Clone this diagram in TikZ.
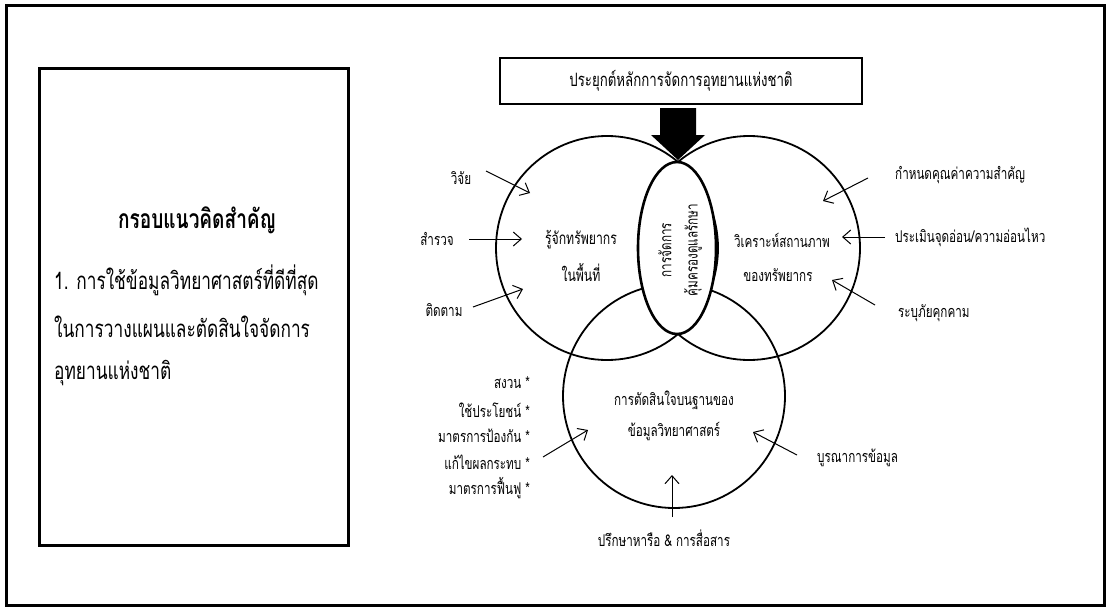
\documentclass[tikz,border=0pt]{standalone}
\usepackage{fontspec}
\newfontfamily\thai[Script=Thai,FakeStretch=0.72]{Loma}
\usetikzlibrary{arrows.meta,shapes.geometric}
\begin{document}
\begin{tikzpicture}[x=1pt,y=-1pt,
  every node/.style={inner sep=0pt},
  txt/.style={font=\thai\fontsize{16.2}{18}\selectfont},
  ctxt/.style={font=\thai\fontsize{17}{19}\selectfont},
  big/.style={font=\thai\fontsize{24}{27}\selectfont},
  ring/.style={draw, line width=1.8pt, ellipse, minimum width=222pt, minimum height=224pt},
  arr/.style={line width=1pt, -{Straight Barb[length=8pt,width=14pt,line width=1pt]}},
  box/.style={draw, line width=2.5pt}]
\useasboundingbox (0,0) rectangle (1107,608);
\draw[line width=3pt] (6,5.5) rectangle (1104,605);
% left panel
\node[box, minimum width=309pt, minimum height=477pt, anchor=north west] (panel) at (38,67) {};
\node[font=\thai\bfseries\fontsize{26.5}{30}\selectfont] (head) at (197,220) {กรอบแนวคิดสำคัญ};
\node[big, anchor=west] (p1) at (54,280) {1. การใช้ข้อมูลวิทยาศาสตร์ที่ดีที่สุด};
\node[big, anchor=west] (p2) at (54,327) {ในการวางแผนและตัดสินใจจัดการ};
\node[big, anchor=west] (p3) at (54,373) {อุทยานแห่งชาติ};
% top box and big arrow
\node[box, minimum width=362pt, minimum height=46pt, font=\thai\fontsize{18.4}{21}\selectfont] (apply) at (681,81) {ประยุกต์หลักการจัดการอุทยานแห่งชาติ};
\coordinate (tip) at (678,160);
% circles
\node[ring] (cL) at (607,248) {};
\node[ring] (cR) at (749,248) {};
\node[ring] (cB) at (674,396) {};
\node[draw, fill=white, line width=2.6pt, ellipse, minimum width=78pt, minimum height=172pt] (core) at (677,248) {};
\fill (660,108) -- (696,108) -- (696,135) -- (705,135) -- (tip) -- (651,135) -- (660,135) -- cycle;
% circle texts
\node[ctxt] (t1) at (581,240) {รู้จักทรัพยากร};
\node[ctxt] (t2) at (581,273) {ในพื้นที่};
\node[txt] (t3) at (782,240) {วิเคราะห์สถานภาพ};
\node[txt] (t4) at (778,275) {ของทรัพยากร};
\node[txt, rotate=90] (t5) at (665,250) {การจัดการ};
\node[txt, rotate=90] (t6) at (693,250) {คุ้มครองดูแลรักษา};
\node[txt] (t7) at (674,400) {การตัดสินใจบนฐานของ};
\node[txt] (t8) at (674,432) {ข้อมูลวิทยาศาสตร์};
% left labels
\node[txt] (l1) at (461,178) {วิจัย};
\node[txt] (l2) at (437,239) {สำรวจ};
\node[txt] (l3) at (444,310) {ติดตาม};
\coordinate (l1s) at (486,171); \coordinate (l1e) at (530,193);
\coordinate (l2s) at (469,239); \coordinate (l2e) at (522,239);
\coordinate (l3s) at (473,307); \coordinate (l3e) at (523,289);
\draw[arr] (l1s) -- (l1e);
\draw[arr] (l2s) -- (l2e);
\draw[arr] (l3s) -- (l3e);
% right labels
\node[txt, anchor=west] (r1) at (895,175) {กำหนดคุณค่าความสำคัญ};
\node[txt, anchor=west] (r2) at (895,237) {ประเมินจุดอ่อน/ความอ่อนไหว};
\node[txt, anchor=west] (r3) at (898,313) {ระบุภัยคุกคาม};
\coordinate (r1s) at (868,178); \coordinate (r1e) at (823,201);
\coordinate (r2s) at (885,237); \coordinate (r2e) at (842,237);
\coordinate (r3s) at (875,305); \coordinate (r3e) at (832,280);
\draw[arr] (r1s) -- (r1e);
\draw[arr] (r2s) -- (r2e);
\draw[arr] (r3s) -- (r3e);
% bottom-left labels
\node[txt, anchor=east] (b1) at (530,383) {สงวน *};
\node[txt, anchor=east] (b2) at (530,410) {ใช้ประโยชน์ *};
\node[txt, anchor=east] (b3) at (530,436) {มาตรการป้องกัน *};
\node[txt, anchor=east] (b4) at (530,462) {แก้ไขผลกระทบ *};
\node[txt, anchor=east] (b5) at (530,488) {มาตรการฟื้นฟู *};
\coordinate (b4s) at (543,457); \coordinate (b4e) at (588,430);
\draw[arr] (b4s) -- (b4e);
% bottom-right labels
\node[txt, anchor=west] (br) at (817,458) {บูรณาการข้อมูล};
\node[txt] (bb) at (664,538) {ปรึกษาหารือ \& การสื่อสาร};
\coordinate (brs) at (797,455); \coordinate (bre) at (753,432);
\coordinate (bbs) at (672,517); \coordinate (bbe) at (672,475);
\draw[arr] (brs) -- (bre);
\draw[arr] (bbs) -- (bbe);
\end{tikzpicture}
\end{document}
